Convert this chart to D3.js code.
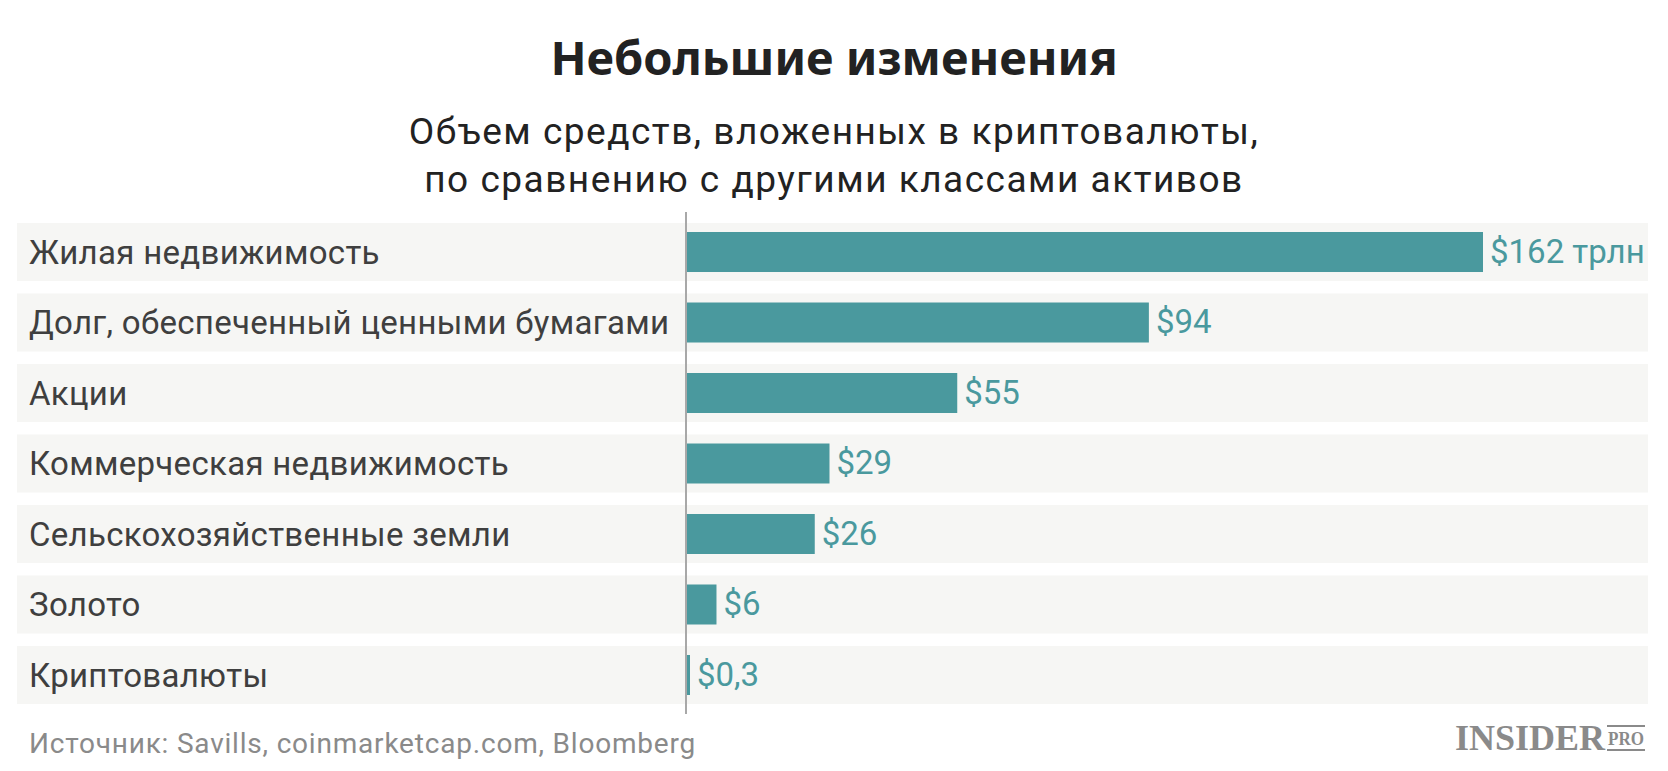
<!DOCTYPE html>
<html>
<head>
<meta charset="utf-8">
<script src="https://cdn.jsdelivr.net/npm/d3@7"></script>
<style>
  html, body { margin: 0; padding: 0; background: #fff; }
  svg { display: block; }
</style>
</head>
<body>
<div id="chart"></div>
<script>
// Asset classes vs crypto, trillions of dollars
const categories = [
    'Жилая недвижимость',
    'Долг, обеспеченный ценными бумагами',
    'Акции',
    'Коммерческая недвижимость',
    'Сельскохозяйственные земли',
    'Золото',
    'Криптовалюты'
];
const values = [162, 94, 55, 29, 26, 6, 0.3];
const valueLabels = ['$162 трлн', '$94', '$55', '$29', '$26', '$6', '$0,3'];

const titleText = 'Небольшие изменения';
const subtitleLines = [
    'Объем средств, вложенных в криптовалюты,',
    'по сравнению с другими классами активов'
];
const sourceText = 'Источник: Savills, coinmarketcap.com, Bloomberg';

const width = 1668, height = 771;

const colors = {
    bar: '#4a999e',
    value: '#4a999e',
    rowBg: '#f6f6f4',
    label: '#3f3f3f',
    title: '#222',
    axis: '#a8a8a8',
    source: '#8a8a8a'
};

const svg = d3.select('#chart').append('svg')
    .attr('width', width)
    .attr('height', height);

// Titles
svg.append('text')
    .attr('x', width / 2)
    .attr('y', 75)
    .attr('text-anchor', 'middle')
    .attr('font-family', '"Noto Sans", "Open Sans", sans-serif')
    .attr('font-weight', 700)
    .attr('font-size', 47)
    .attr('fill', colors.title)
    .text(titleText);

svg.selectAll('.subtitle')
    .data(subtitleLines)
    .enter().append('text')
    .attr('class', 'subtitle')
    .attr('x', width / 2)
    .attr('y', (d, i) => 144 + i * 48)
    .attr('text-anchor', 'middle')
    .attr('font-family', 'Roboto, sans-serif')
    .attr('font-size', 37)
    .attr('letter-spacing', 1.5)
    .attr('fill', colors.title)
    .text(d => d);

// Scales
const y = d3.scaleBand()
    .domain(categories)
    .range([223, 704])
    .paddingInner(0.177)
    .paddingOuter(0);

const x = d3.scaleLinear()
    .domain([0, 162])
    .range([687, 1483]);

const rows = svg.selectAll('.row')
    .data(categories.map((c, i) => ({ cat: c, value: values[i], label: valueLabels[i] })))
    .enter().append('g')
    .attr('class', 'row')
    .attr('transform', d => `translate(0, ${y(d.cat)})`);

// Row background stripes
rows.append('rect')
    .attr('x', 17)
    .attr('width', 1648 - 17)
    .attr('height', y.bandwidth())
    .attr('fill', colors.rowBg);

// Category labels
rows.append('text')
    .attr('x', 29)
    .attr('y', y.bandwidth() / 2 + 12)
    .attr('font-family', 'Roboto, sans-serif')
    .attr('font-size', 33)
    .attr('letter-spacing', 0.3)
    .attr('fill', colors.label)
    .text(d => d.cat);

// Bars
const barH = 40;
const barW = d => Math.max(3, x(d.value) - x(0));
rows.append('rect')
    .attr('x', x(0))
    .attr('y', (y.bandwidth() - barH) / 2)
    .attr('width', barW)
    .attr('height', barH)
    .attr('fill', colors.bar);

// Value labels
rows.append('text')
    .attr('x', d => x(0) + barW(d) + 7)
    .attr('y', y.bandwidth() / 2 + 11)
    .attr('font-family', 'Roboto, sans-serif')
    .attr('font-size', 33)
    .attr('fill', colors.value)
    .text(d => d.label);

// Baseline axis
svg.append('line')
    .attr('x1', x(0) - 1).attr('x2', x(0) - 1)
    .attr('y1', 212).attr('y2', 714)
    .attr('stroke', colors.axis)
    .attr('stroke-width', 2);

// Source
svg.append('text')
    .attr('x', 29)
    .attr('y', 753)
    .attr('font-family', 'Roboto, sans-serif')
    .attr('font-size', 28)
    .attr('letter-spacing', 0.8)
    .attr('fill', colors.source)
    .text(sourceText);

// Logo
const logo = svg.append('g').attr('fill', '#8a8a8a');
logo.append('text')
    .attr('x', 1605)
    .attr('y', 750)
    .attr('text-anchor', 'end')
    .attr('font-family', '"Liberation Serif", serif')
    .attr('font-weight', 700)
    .attr('font-size', 36)
    .text('INSIDER');
logo.append('text')
    .attr('x', 1608)
    .attr('y', 745)
    .attr('font-family', '"Liberation Serif", serif')
    .attr('font-weight', 700)
    .attr('font-size', 19)
    .attr('textLength', 36)
    .attr('lengthAdjust', 'spacingAndGlyphs')
    .text('PRO');
logo.append('rect').attr('x', 1607).attr('y', 725).attr('width', 38).attr('height', 2);
logo.append('rect').attr('x', 1607).attr('y', 749).attr('width', 38).attr('height', 2);
</script>
</body>
</html>
